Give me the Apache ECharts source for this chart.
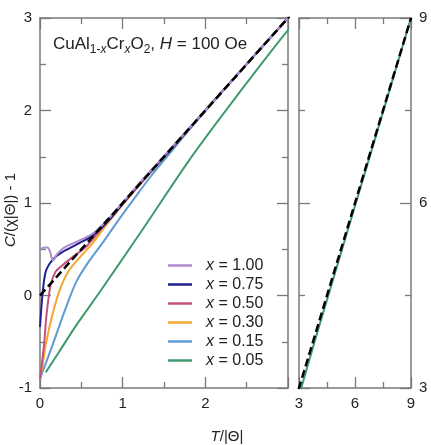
<!DOCTYPE html>
<html>
<head>
<meta charset="utf-8">
<script src="https://cdn.jsdelivr.net/npm/echarts@6/dist/echarts.min.js"></script>
<style>html,body{margin:0;padding:0;background:#fff}#c{width:431px;height:445px}</style>
</head>
<body>
<div id="c"></div>
<script>
// ---- data (T/|Theta|, C/(chi|Theta|) - 1) ----
const seriesNames = ['x = 1.00', 'x = 0.75', 'x = 0.50', 'x = 0.30', 'x = 0.15', 'x = 0.05'];
const seriesColors = ['#ab8dcc', '#1f1f8f', '#c4507c', '#f5a62e', '#5f9ad2', '#3f9b6e'];
const x100 = [[0.01,0.50],[0.05,0.52],[0.09,0.52],[0.12,0.48],[0.14,0.41],[0.16,0.38],[0.2,0.44],[0.28,0.51],[0.44,0.58],[0.64,0.67],[0.85,0.85],[1.1,1.11],[1.5,1.51],[2,2.0],[3,3.0]];
const x075 = [[0.0,-0.34],[0.015,-0.15],[0.03,0.01],[0.05,0.17],[0.07,0.26],[0.1,0.32],[0.13,0.36],[0.19,0.42],[0.27,0.47],[0.44,0.55],[0.64,0.65],[0.85,0.83],[1.1,1.1],[1.5,1.5],[2,2],[3,3]];
const x050 = [[0.0,-0.9],[0.02,-0.76],[0.05,-0.52],[0.08,-0.2],[0.13,0.12],[0.19,0.26],[0.25,0.31],[0.4,0.42],[0.56,0.53],[0.75,0.73],[1,0.99],[2,2],[3,3]];
const x030 = [[0.0,-0.9],[0.03,-0.76],[0.07,-0.53],[0.13,-0.28],[0.23,0.04],[0.35,0.27],[0.52,0.45],[0.64,0.57],[0.8,0.76],[1,0.98],[1.5,1.5],[3,3]];
const x015 = [[0.0,-0.9],[0.15,-0.54],[0.31,-0.14],[0.44,0.15],[0.6,0.38],[0.75,0.56],[0.93,0.79],[1.15,1.06],[1.35,1.3],[1.6,1.57],[1.9,1.89],[2.3,2.3],[3,3]];
const x005 = [[0.07,-0.83],[0.23,-0.61],[0.44,-0.32],[0.725,0.04],[1.2,0.66],[1.85,1.52],[2.4,2.18],[3,2.87],[4,3.92],[6,5.95],[9,9]];
const curieWeiss = [[0,0],[9,9]];
const leftXTicks = [0, 3, 1];   // min, max, interval
const leftYTicks = [-1, 3, 1];
const rightTicks = [3, 9, 3];

const allData = [x100, x075, x050, x030, x015, x005];

const gray = '#7a7a7a';
const font = 'Liberation Sans, Arial, sans-serif';
function axisCommon(showLabel, pos, gridIndex, ticks, extra) {
  return Object.assign({
    type: 'value', gridIndex: gridIndex, position: pos,
    min: ticks[0], max: ticks[1], interval: ticks[2],
    axisLine: {show: true, onZero: false, lineStyle: {color: gray, width: 1.5}},
    axisTick: {show: true, inside: true, length: 11, lineStyle: {color: gray, width: 1.3}},
    minorTick: {show: true, splitNumber: 2, length: 6, lineStyle: {color: gray, width: 1.3}},
    splitLine: {show: false},
    axisLabel: {show: showLabel, fontSize: 15, color: '#222', fontFamily: font, margin: 8}
  }, extra || {});
}

const chart = echarts.init(document.getElementById('c'), null, {renderer: 'canvas'});
const series = [];
// draw order: green at bottom, purple on top
for (let i = allData.length - 1; i >= 0; i--) {
  series.push({
    name: seriesNames[i], type: 'line', xAxisIndex: 0, yAxisIndex: 0,
    data: allData[i], smooth: 0.3, showSymbol: false, symbol: 'none',
    lineStyle: {color: seriesColors[i], width: 2}, itemStyle: {color: seriesColors[i]},
    clip: true, z: 2 + (allData.length - i)
  });
}
series.push({
  name: 'CW', type: 'line', xAxisIndex: 0, yAxisIndex: 0, data: curieWeiss,
  showSymbol: false, symbol: 'none', lineStyle: {color: '#000', width: 2.5, type: [8, 4]}, clip: true, z: 20
});
series.push({
  name: seriesNames[5], type: 'line', xAxisIndex: 2, yAxisIndex: 3, data: x005,
  smooth: 0.3, showSymbol: false, symbol: 'none', lineStyle: {color: seriesColors[5], width: 2}, clip: true, z: 3
});
series.push({
  name: 'CW', type: 'line', xAxisIndex: 2, yAxisIndex: 3, data: curieWeiss,
  showSymbol: false, symbol: 'none', lineStyle: {color: '#000', width: 2.5, type: [8, 4]}, clip: true, z: 20
});

const leftX = axisCommon(true, 'bottom', 0, leftXTicks);
leftX.axisLabel.showMaxLabel = false;

chart.setOption({
  animation: false,
  backgroundColor: '#fff',
  grid: [
    {left: 40, top: 18, width: 248, height: 370},
    {left: 299, top: 18, width: 112, height: 370}
  ],
  xAxis: [
    leftX,
    axisCommon(false, 'top', 0, leftXTicks),
    axisCommon(true, 'bottom', 1, rightTicks),
    axisCommon(false, 'top', 1, rightTicks)
  ],
  yAxis: [
    axisCommon(true, 'left', 0, leftYTicks),
    axisCommon(false, 'right', 0, leftYTicks),
    axisCommon(false, 'left', 1, rightTicks),
    axisCommon(true, 'right', 1, rightTicks)
  ],
  legend: {
    data: seriesNames, orient: 'vertical', left: 163, top: 251,
    icon: 'rect', itemWidth: 24, itemHeight: 2.5, itemGap: 0,
    selectedMode: false,
    formatter: n => '{i|x}' + n.slice(1),
    textStyle: {fontSize: 16, color: '#222', fontFamily: font, lineHeight: 19, padding: [0, 0, 0, 9],
      rich: {i: {fontStyle: 'italic', fontSize: 16, fontFamily: font, color: '#222'}}}
  },
  graphic: [
    {type: 'text', left: 53, top: 36, style: {
      text: 'CuAl{sub|1-}{subi|x}Cr{subi|x}O{sub|2}, {i|H} = 100 Oe',
      font: '17px ' + font, fill: '#222',
      rich: {
        sub: {fontSize: 12, fontFamily: font, fill: '#222', padding: [10, 0, 0, 0]},
        subi: {fontSize: 12, fontFamily: font, fontStyle: 'italic', fill: '#222', padding: [10, 0, 0, 0]},
        i: {fontSize: 17, fontFamily: font, fontStyle: 'italic', fill: '#222'}
      }
    }},
    {type: 'text', x: 11, y: 210, rotation: Math.PI / 2, style: {
      text: '{i|C}/(χ|Θ|) - 1', font: '15px ' + font, fill: '#222', align: 'center', verticalAlign: 'middle',
      rich: {i: {fontStyle: 'italic', fontSize: 15, fontFamily: font, fill: '#222'}}
    }},
    {type: 'text', x: 227, y: 437, style: {
      text: '{i|T}/|Θ|', font: '15px ' + font, fill: '#222', align: 'center', verticalAlign: 'middle',
      rich: {i: {fontStyle: 'italic', fontSize: 15, fontFamily: font, fill: '#222'}}
    }}
  ],
  series: series
});
</script>
</body>
</html>
